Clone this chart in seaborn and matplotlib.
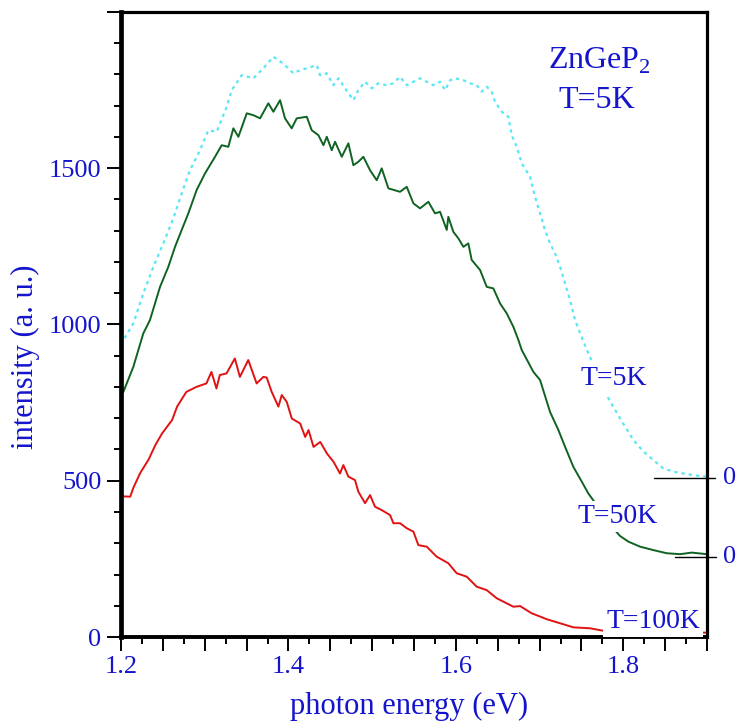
import matplotlib
matplotlib.use("Agg")
import matplotlib.pyplot as plt
from matplotlib.ticker import MultipleLocator, FuncFormatter
import numpy as np
import pandas as pd
import seaborn as sns

# photon energy (eV) / intensity (a. u.) (curves already offset)
e_5k = [1.2000, 1.2028, 1.2147, 1.2266, 1.2386, 1.2505, 1.2625, 1.2725, 1.2824, 1.2944,
        1.3043, 1.3143, 1.3263, 1.3322, 1.3442, 1.3581, 1.3700, 1.3820, 1.3939, 1.4059,
        1.4139, 1.4219, 1.4338, 1.4377, 1.4458, 1.4537, 1.4597, 1.4677, 1.4776, 1.4835,
        1.4915, 1.4995, 1.5074, 1.5174, 1.5254, 1.5333, 1.5413, 1.5493, 1.5572, 1.5652,
        1.5731, 1.5811, 1.5871, 1.5931, 1.5990, 1.6090, 1.6170, 1.6249, 1.6309, 1.6369,
        1.6428, 1.6468, 1.6548, 1.6627, 1.6667, 1.6727, 1.6787, 1.6886, 1.6946, 1.7006,
        1.7065, 1.7125, 1.7185, 1.7245, 1.7305, 1.7364, 1.7424, 1.7484, 1.7583, 1.7700,
        1.7823, 1.7962, 1.8121, 1.8241, 1.8360, 1.8479, 1.8599, 1.8758, 1.8918, 1.9000]
i_5k = [935, 950, 1003, 1099, 1184, 1259, 1339, 1419, 1493, 1557,
        1621, 1616, 1696, 1749, 1797, 1787, 1819, 1856, 1834, 1803,
        1813, 1819, 1829, 1797, 1803, 1765, 1787, 1755, 1717, 1749,
        1776, 1755, 1771, 1765, 1771, 1792, 1765, 1776, 1787, 1776,
        1765, 1776, 1749, 1781, 1787, 1781, 1771, 1765, 1744, 1760,
        1744, 1712, 1680, 1664, 1605, 1568, 1515, 1472, 1408, 1355,
        1302, 1259, 1227, 1184, 1131, 1078, 1014, 971, 907, 835,
        763, 699, 630, 593, 566, 539, 529, 521, 515, 513]

e_50k = [1.2000, 1.2028, 1.2147, 1.2266, 1.2346, 1.2466, 1.2565, 1.2645, 1.2725, 1.2804,
         1.2904, 1.3004, 1.3123, 1.3203, 1.3282, 1.3342, 1.3402, 1.3502, 1.3581, 1.3661,
         1.3760, 1.3820, 1.3900, 1.3959, 1.4039, 1.4099, 1.4219, 1.4278, 1.4358, 1.4418,
         1.4458, 1.4517, 1.4557, 1.4637, 1.4716, 1.4776, 1.4835, 1.4895, 1.4975, 1.5055,
         1.5114, 1.5194, 1.5333, 1.5413, 1.5493, 1.5572, 1.5672, 1.5751, 1.5811, 1.5891,
         1.5910, 1.5970, 1.6030, 1.6090, 1.6149, 1.6189, 1.6289, 1.6369, 1.6448, 1.6528,
         1.6608, 1.6687, 1.6747, 1.6787, 1.6926, 1.7006, 1.7125, 1.7225, 1.7305, 1.7404,
         1.7504, 1.7583, 1.7675, 1.7800, 1.7962, 1.8062, 1.8201, 1.8360, 1.8519, 1.8678,
         1.8818, 1.9000]
i_50k = [780, 784, 864, 971, 1014, 1120, 1184, 1248, 1302, 1355,
         1430, 1483, 1536, 1573, 1568, 1627, 1600, 1675, 1669, 1659,
         1707, 1680, 1717, 1659, 1627, 1659, 1664, 1621, 1605, 1573,
         1600, 1557, 1584, 1536, 1579, 1509, 1520, 1536, 1493, 1461,
         1499, 1435, 1424, 1440, 1387, 1371, 1392, 1355, 1360, 1302,
         1344, 1296, 1275, 1248, 1259, 1206, 1174, 1120, 1115, 1067,
         1035, 992, 950, 918, 848, 822, 720, 662, 608, 544,
         497, 459, 425, 372, 323, 305, 289, 278, 268, 265,
         270, 265]

e_100k = [1.2000, 1.2110, 1.2150, 1.2230, 1.2330, 1.2410, 1.2490, 1.2610, 1.2670, 1.2780,
          1.2900, 1.3020, 1.3080, 1.3140, 1.3180, 1.3260, 1.3360, 1.3420, 1.3520, 1.3620,
          1.3700, 1.3740, 1.3800, 1.3880, 1.3920, 1.3980, 1.4040, 1.4140, 1.4200, 1.4240,
          1.4300, 1.4380, 1.4460, 1.4540, 1.4616, 1.4656, 1.4716, 1.4795, 1.4835, 1.4915,
          1.4975, 1.5034, 1.5114, 1.5214, 1.5254, 1.5333, 1.5413, 1.5493, 1.5552, 1.5652,
          1.5771, 1.5910, 1.6010, 1.6130, 1.6249, 1.6369, 1.6488, 1.6687, 1.6767, 1.6906,
          1.7086, 1.7245, 1.7404, 1.7603, 1.7762, 1.8000, 1.8500, 1.9000]
i_100k = [450, 449, 479, 525, 568, 614, 651, 694, 737, 784,
          800, 811, 848, 795, 838, 843, 891, 832, 886, 811,
          832, 830, 784, 737, 774, 752, 699, 683, 640, 662,
          608, 624, 587, 560, 523, 550, 513, 502, 465, 428,
          454, 417, 406, 390, 364, 364, 348, 337, 294, 289,
          257, 236, 204, 193, 161, 150, 124, 97, 99, 76,
          57, 44, 31, 28, 20, 18, 15, 14]

# baselines of the offset curves (marked "0" on the right)
zero_5k = 510
zero_50k = 257

y_tick_labels = ["0", "500", "1000", "1500"]
x_tick_labels = ["1.2", "1.4", "1.6", "1.8"]

BLUE = "#1414cc"
CYAN = "#5ae6f4"
GREEN = "#0f6322"
RED = "#e01212"

sns.set_style("white")
plt.rcParams["font.family"] = ["Liberation Serif", "DejaVu Serif"]
plt.rcParams["mathtext.fontset"] = "custom"
plt.rcParams["mathtext.rm"] = "Liberation Serif"

fig = plt.figure(figsize=(7.37, 7.23), dpi=100)
ax = fig.add_axes([0.1642, 0.1189, 0.7951, 0.8649])

df5 = pd.DataFrame({"E": e_5k, "I": i_5k})
df50 = pd.DataFrame({"E": e_50k, "I": i_50k})
df100 = pd.DataFrame({"E": e_100k, "I": i_100k})

sns.lineplot(data=df5, x="E", y="I", ax=ax, color=CYAN, lw=1.6,
             linestyle=(0, (1.5, 1.8)), estimator=None, sort=False)
sns.lineplot(data=df50, x="E", y="I", ax=ax, color=GREEN, lw=1.4,
             estimator=None, sort=False)
sns.lineplot(data=df100, x="E", y="I", ax=ax, color=RED, lw=1.4,
             estimator=None, sort=False)

ax.set_xlim(1.2, 1.9)
ax.set_ylim(0, 2000)

# x ticks: long every 0.05, short every 0.025, labels every 0.2
ax.xaxis.set_major_locator(MultipleLocator(0.05))
ax.xaxis.set_minor_locator(MultipleLocator(0.025))
def xfmt(v, pos):
    s = f"{v:.1f}"
    if s in x_tick_labels and abs(v * 10 - round(v * 10)) < 1e-6:
        return s
    return ""
ax.xaxis.set_major_formatter(FuncFormatter(xfmt))

ax.yaxis.set_major_locator(MultipleLocator(500))
ax.yaxis.set_minor_locator(MultipleLocator(100))
def yfmt(v, pos):
    s = f"{v:.0f}"
    return s if s in y_tick_labels else ""
ax.yaxis.set_major_formatter(FuncFormatter(yfmt))

ax.tick_params(axis="both", which="major", direction="out", length=10, width=1.4,
               color="black", labelcolor=BLUE, labelsize=19, pad=4)
ax.tick_params(axis="both", which="minor", direction="out", length=5, width=1.4,
               color="black")
ax.tick_params(top=False, right=False, bottom=True, left=True, which="both")

for side, lw in [("left", 3.4), ("bottom", 2.8), ("top", 2.3), ("right", 2.3)]:
    ax.spines[side].set_visible(True)
    ax.spines[side].set_linewidth(lw)
    ax.spines[side].set_color("black")

ax.set_xlabel("photon energy (eV)", fontsize=22, color=BLUE)
ax.set_ylabel("intensity (a. u.)", fontsize=22, color=BLUE)
ax.xaxis.set_label_coords(0.4915, -0.088)
ax.yaxis.set_label_coords(-0.138, 0.448)

# annotations
box = dict(facecolor="white", edgecolor="none", pad=2)
ax.text(1.7101, 1818, "ZnGeP$_2$", fontsize=23, color=BLUE, ha="left", va="baseline")
ax.text(1.7225, 1691, "T=5K", fontsize=23, color=BLUE, ha="left", va="baseline")
ax.text(1.7484, 806, "T=5K", fontsize=20, color=BLUE, ha="left", va="baseline", bbox=box)
ax.text(1.7448, 364, "T=50K", fontsize=20, color=BLUE, ha="left", va="baseline", bbox=box)
ax.text(1.7795, 29, "T=100K", fontsize=20, color=BLUE, ha="left", va="baseline",
        bbox=box, zorder=4)

# zero markers of the offset curves
ax.plot([1.837, 1.909], [zero_5k, zero_5k], color="black", lw=1.0, clip_on=False)
ax.plot([1.862, 1.911], [zero_50k, zero_50k], color="black", lw=1.0, clip_on=False)
ax.text(1.919, zero_5k, "0", fontsize=19, color=BLUE, ha="left", va="center", clip_on=False)
ax.text(1.919, zero_50k, "0", fontsize=19, color=BLUE, ha="left", va="center", clip_on=False)

fig.savefig("out.png", dpi=100)
